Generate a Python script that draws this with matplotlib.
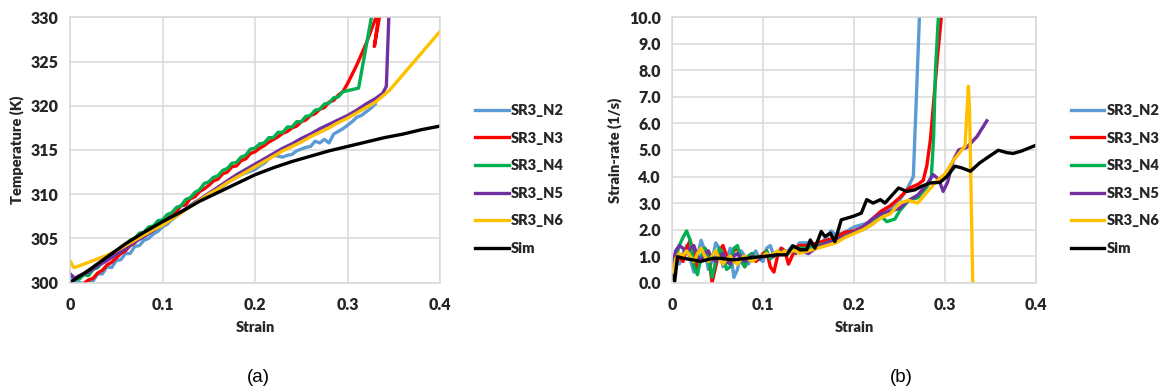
import matplotlib
matplotlib.use("Agg")
import matplotlib.pyplot as plt
from matplotlib.ticker import FixedLocator, FixedFormatter

# ---------------- (a) Temperature vs strain ----------------
temp_n2_strain = [0, 0.005, 0.01, 0.015, 0.02, 0.025, 0.03, 0.035, 0.04, 0.045, 0.05, 0.055,
                  0.06, 0.065, 0.07, 0.075, 0.08, 0.085, 0.09, 0.095, 0.10, 0.105, 0.11, 0.115,
                  0.12, 0.125, 0.13, 0.135, 0.14, 0.145, 0.15, 0.155, 0.16, 0.165, 0.17, 0.175,
                  0.18, 0.185, 0.19, 0.195, 0.20, 0.205, 0.21, 0.215, 0.22, 0.225, 0.23, 0.235,
                  0.24, 0.245, 0.25, 0.255, 0.26, 0.265, 0.27, 0.275, 0.28, 0.285, 0.29, 0.295,
                  0.30, 0.305, 0.31, 0.315, 0.32, 0.325, 0.33]
temp_n2 = [300.6, 300.2, 300.0, 299.9, 300.3, 300.2, 301.0, 301.0, 301.8, 301.7, 302.5, 302.6,
           303.3, 303.3, 304.1, 304.2, 304.8, 305.0, 305.5, 305.8, 306.3, 306.6, 307.1, 307.5,
           307.9, 308.3, 308.7, 309.1, 309.3, 309.6, 309.9, 310.3, 310.6, 310.9, 311.3, 311.6,
           311.9, 312.2, 312.4, 312.6, 312.8, 313.2, 313.5, 314.0, 314.4, 314.3, 314.2, 314.4,
           314.5, 314.9, 315.1, 315.3, 315.4, 316.0, 315.8, 316.2, 315.8, 316.8, 317.1, 317.4,
           317.8, 318.2, 318.7, 318.9, 319.3, 319.7, 320.2]

temp_n3_strain = [0.005, 0.01, 0.015, 0.02, 0.025, 0.03, 0.035, 0.04, 0.045, 0.05, 0.055,
                  0.06, 0.065, 0.07, 0.075, 0.08, 0.085, 0.09, 0.095, 0.10, 0.105, 0.11, 0.115,
                  0.12, 0.125, 0.13, 0.135, 0.14, 0.145, 0.15, 0.155, 0.16, 0.165, 0.17, 0.175,
                  0.18, 0.185, 0.19, 0.195, 0.20, 0.205, 0.21, 0.215, 0.22, 0.225, 0.23, 0.235,
                  0.24, 0.245, 0.25, 0.255, 0.26, 0.265, 0.27, 0.275, 0.28, 0.285, 0.29, 0.295,
                  0.30, 0.31, 0.32, 0.333, 0.336, 0.329, 0.3345, 0.337]
temp_n3 = [299.6, 299.7, 299.9, 300.3, 300.5, 301.1, 301.4, 302.0, 302.3, 302.8, 303.3,
           303.6, 304.2, 304.5, 305.1, 305.3, 305.9, 306.1, 306.6, 306.9, 307.3, 307.7, 308.0,
           308.7, 308.8, 309.5, 309.7, 310.3, 310.6, 311.0, 311.5, 311.7, 312.3, 312.5, 313.1,
           313.2, 313.8, 314.0, 314.6, 314.8, 315.2, 315.5, 315.9, 316.2, 316.5, 316.9, 317.1,
           317.5, 317.7, 318.2, 318.4, 318.9, 319.1, 319.6, 319.8, 320.4, 320.6, 321.2, 321.6,
           322.5, 324.6, 327.0, 330.6, 331.8, 326.7, 330.0, 331.5]

temp_n4_strain = [0, 0.005, 0.01, 0.015, 0.02, 0.025, 0.03, 0.035, 0.04, 0.045, 0.05, 0.055,
                  0.06, 0.065, 0.07, 0.075, 0.08, 0.085, 0.09, 0.095, 0.10, 0.105, 0.11, 0.115,
                  0.12, 0.125, 0.13, 0.135, 0.14, 0.145, 0.15, 0.155, 0.16, 0.165, 0.17, 0.175,
                  0.18, 0.185, 0.19, 0.195, 0.20, 0.205, 0.21, 0.215, 0.22, 0.225, 0.23, 0.235,
                  0.24, 0.245, 0.25, 0.255, 0.26, 0.265, 0.27, 0.275, 0.28, 0.285, 0.29, 0.295,
                  0.30, 0.312, 0.326, 0.330]
temp_n4 = [301.0, 300.5, 300.4, 300.9, 300.8, 301.5, 301.7, 302.3, 302.6, 303.2, 303.4, 304.0,
           304.2, 304.8, 305.0, 305.6, 305.7, 306.3, 306.4, 307.0, 307.1, 307.7, 307.9, 308.5,
           308.7, 309.4, 309.6, 310.2, 310.5, 311.2, 311.4, 311.9, 312.1, 312.7, 312.9, 313.5,
           313.6, 314.2, 314.4, 315.1, 315.2, 315.7, 315.8, 316.4, 316.4, 317.0, 317.0, 317.6,
           317.6, 318.2, 318.2, 318.8, 318.9, 319.5, 319.6, 320.2, 320.3, 320.9, 321.0, 321.6,
           321.7, 322.0, 330.1, 333.0]

temp_n5_strain = [0, 0.005, 0.01, 0.02, 0.03, 0.04, 0.05, 0.06, 0.07, 0.08, 0.09, 0.10,
                  0.11, 0.12, 0.13, 0.14, 0.15, 0.16, 0.17, 0.18, 0.19, 0.20, 0.21, 0.22,
                  0.23, 0.24, 0.25, 0.26, 0.27, 0.28, 0.29, 0.30, 0.31, 0.32, 0.33, 0.338,
                  0.342, 0.345]
temp_n5 = [301.0, 300.5, 300.8, 301.2, 301.9, 302.5, 303.2, 303.8, 304.6, 305.2, 305.9, 306.6,
           307.3, 308.0, 308.7, 309.4, 310.1, 310.8, 311.5, 312.2, 312.8, 313.4, 314.0, 314.6,
           315.2, 315.7, 316.3, 316.8, 317.4, 317.9, 318.4, 318.9, 319.5, 320.2, 320.8, 321.4,
           322.2, 331.0]

temp_n6_strain = [0, 0.004, 0.01, 0.02, 0.03, 0.04, 0.05, 0.06, 0.07, 0.08, 0.09, 0.10,
                  0.11, 0.12, 0.13, 0.14, 0.15, 0.16, 0.17, 0.18, 0.19, 0.20, 0.21, 0.22,
                  0.23, 0.24, 0.25, 0.26, 0.27, 0.28, 0.29, 0.30, 0.31, 0.32, 0.33, 0.345,
                  0.40]
temp_n6 = [302.5, 301.7, 301.9, 302.3, 302.7, 303.1, 303.6, 304.2, 304.8, 305.4, 306.0, 306.5,
           307.2, 307.9, 308.6, 309.3, 310.0, 310.6, 311.3, 311.9, 312.5, 313.1, 313.7, 314.3,
           314.9, 315.4, 315.9, 316.5, 317.0, 317.5, 318.1, 318.6, 319.2, 319.8, 320.4, 321.7,
           328.4]

temp_sim_strain = [0, 0.02, 0.04, 0.06, 0.08, 0.10, 0.12, 0.14, 0.16, 0.18, 0.20, 0.22,
                   0.24, 0.26, 0.28, 0.30, 0.32, 0.34, 0.36, 0.38, 0.40]
temp_sim = [300.0, 301.4, 302.9, 304.4, 305.7, 306.9, 308.0, 309.2, 310.2, 311.2, 312.2, 313.0,
            313.7, 314.3, 314.9, 315.4, 315.9, 316.4, 316.8, 317.3, 317.7]

# ---------------- (b) Strain-rate vs strain ----------------
rate_early_strain = [0, 0.004, 0.008, 0.012, 0.016, 0.02, 0.024, 0.028, 0.032, 0.036, 0.04, 0.044,
                     0.048, 0.052, 0.056, 0.06, 0.064, 0.068, 0.072, 0.076, 0.08, 0.084, 0.088,
                     0.092, 0.096, 0.10, 0.104, 0.108, 0.112, 0.116, 0.12, 0.124, 0.128, 0.132,
                     0.136, 0.14]

rate_n2_early = [0.5, 0.9, 0.7, 1.1, 1.4, 0.9, 0.4, 1.0, 1.6, 1.2, 0.5, 0.8, 1.5, 1.3, 0.6, 0.9,
                 1.3, 0.2, 0.5, 1.2, 1.0, 0.7, 1.0, 1.2, 0.9, 0.8, 1.3, 1.4, 1.0, 1.1, 1.3, 1.2,
                 1.2, 1.4, 1.3, 1.5]
rate_n2_late_strain = [0.15, 0.16, 0.17, 0.175, 0.18, 0.19, 0.20, 0.21, 0.22, 0.23, 0.24, 0.25,
                       0.258, 0.2652, 0.272, 0.2725]
rate_n2_late = [1.5, 1.4, 1.7, 1.95, 1.8, 1.9, 2.1, 2.2, 2.3, 2.6, 2.8, 3.1,
                3.5, 4.0, 10.1, 11.0]

rate_n3_early = [0.2, 0.7, 1.0, 0.8, 1.3, 1.6, 1.0, 0.5, 0.9, 1.3, 1.1, 0.0, 0.6, 1.2, 1.4, 1.0,
                 0.8, 1.2, 1.3, 0.9, 0.6, 1.0, 1.1, 0.8, 0.9, 1.1, 1.2, 0.6, 0.4, 1.0, 1.3, 1.2,
                 0.7, 1.0, 1.3, 1.4]
rate_n3_late_strain = [0.15, 0.16, 0.17, 0.18, 0.19, 0.20, 0.21, 0.22, 0.23, 0.24, 0.25, 0.26,
                       0.27, 0.276, 0.28, 0.284, 0.288, 0.292, 0.2965, 0.298]
rate_n3_late = [1.4, 1.5, 1.6, 1.7, 1.9, 1.95, 2.1, 2.4, 2.7, 2.9, 3.2, 3.55,
                3.7, 3.85, 4.4, 5.4, 7.0, 8.6, 10.2, 11.0]

rate_n4_early = [0.3, 0.9, 1.4, 1.7, 1.95, 1.6, 0.6, 0.3, 1.0, 1.3, 0.9, 0.2, 0.8, 1.3, 1.1, 0.5,
                 0.6, 1.3, 1.4, 0.8, 0.6, 1.0, 1.1, 0.9, 0.9, 1.0, 1.2, 0.9, 1.0, 1.1, 1.2, 1.1,
                 1.1, 1.3, 1.2, 1.3]
rate_n4_late_strain = [0.15, 0.16, 0.17, 0.18, 0.19, 0.20, 0.21, 0.22, 0.23, 0.236, 0.245, 0.25,
                       0.26, 0.27, 0.28, 0.285, 0.2875, 0.2895, 0.293, 0.294]
rate_n4_late = [1.3, 1.4, 1.5, 1.6, 1.75, 1.9, 2.0, 2.2, 2.5, 2.3, 2.4, 2.7,
                3.1, 3.2, 3.6, 4.0, 5.5, 8.0, 10.2, 11.0]

rate_n5_early = [0.5, 1.2, 1.4, 1.3, 1.1, 1.3, 1.4, 1.0, 0.8, 1.1, 1.2, 0.9, 0.8, 1.0, 1.1, 0.8,
                 0.7, 1.0, 1.1, 0.9, 0.8, 0.9, 1.0, 0.9, 0.9, 1.0, 1.1, 1.0, 1.0, 1.1, 1.2, 1.1,
                 1.1, 1.2, 1.1, 1.2]
rate_n5_late_strain = [0.15, 0.16, 0.17, 0.18, 0.19, 0.20, 0.21, 0.22, 0.23, 0.24, 0.25, 0.26,
                       0.27, 0.28, 0.287, 0.293, 0.298, 0.303, 0.309, 0.315, 0.324, 0.335, 0.346]
rate_n5_late = [1.1, 1.35, 1.5, 1.6, 1.75, 1.9, 2.1, 2.4, 2.6, 2.7, 2.8, 3.1,
                3.3, 3.7, 4.07, 3.9, 3.44, 3.8, 4.6, 5.0, 5.1, 5.5, 6.1]

rate_n6_early = [0.1, 0.9, 1.1, 1.0, 1.2, 1.0, 0.8, 1.1, 1.3, 1.0, 0.8, 1.0, 1.2, 0.9, 0.7, 0.9,
                 1.0, 0.8, 0.7, 0.9, 1.0, 0.9, 0.8, 0.9, 1.0, 1.0, 1.1, 1.0, 1.1, 1.2, 1.1, 1.2,
                 1.1, 1.2, 1.2, 1.1]
rate_n6_late_strain = [0.15, 0.16, 0.17, 0.18, 0.19, 0.20, 0.21, 0.22, 0.23, 0.24, 0.25, 0.26,
                       0.27, 0.28, 0.29, 0.30, 0.309, 0.322, 0.3257, 0.327, 0.3305, 0.3312]
rate_n6_late = [1.2, 1.3, 1.4, 1.5, 1.7, 1.85, 2.0, 2.2, 2.45, 2.6, 3.0, 3.1,
                3.0, 3.4, 3.8, 4.1, 4.6, 5.15, 7.4, 6.5, 0.0, -0.5]

rate_sim_strain = [0, 0.003, 0.006, 0.0125, 0.023, 0.031, 0.045, 0.053, 0.067, 0.082, 0.097,
                   0.104, 0.115, 0.126, 0.133, 0.141, 0.148, 0.152, 0.157, 0.164, 0.168, 0.174,
                   0.179, 0.186, 0.199, 0.208, 0.214, 0.221, 0.229, 0.234, 0.249, 0.258, 0.267,
                   0.274, 0.284, 0.2945, 0.302, 0.311, 0.318, 0.328, 0.338, 0.349, 0.3586,
                   0.368, 0.375, 0.384, 0.40]
rate_sim = [0.29, 0.05, 0.98, 0.92, 0.86, 0.80, 0.92, 0.92, 0.86, 0.92, 0.98,
            1.0, 1.05, 1.05, 1.39, 1.24, 1.24, 1.61, 1.30, 1.93, 1.74, 1.87,
            1.55, 2.37, 2.50, 2.62, 3.13, 3.0, 3.13, 3.0, 3.57, 3.44, 3.50,
            3.63, 3.76, 3.78, 4.0, 4.39, 4.33, 4.20, 4.51, 4.77, 4.99,
            4.90, 4.87, 4.96, 5.18]

series_names = ["SR3_N2", "SR3_N3", "SR3_N4", "SR3_N5", "SR3_N6", "Sim"]
series_colors = ["#5b9bd5", "#ff0000", "#00b050", "#7030a0", "#ffc000", "#000000"]

temp_ticks = [300, 305, 310, 315, 320, 325, 330]
rate_ticks = [0, 1, 2, 3, 4, 5, 6, 7, 8, 9, 10]
rate_tick_labels = ["0.0", "1.0", "2.0", "3.0", "4.0", "5.0", "6.0", "7.0", "8.0", "9.0", "10.0"]
strain_ticks = [0, 0.1, 0.2, 0.3, 0.4]
strain_tick_labels = ["0", "0.1", "0.2", "0.3", "0.4"]

FONT = "Lato"
GRID = "#d9d9d9"
INK = "#262626"

fig = plt.figure(figsize=(11.67, 3.89), dpi=100)
ax_a = fig.add_axes([70 / 1167, 1 - 282.7 / 389, 370 / 1167, 265.4 / 389])
ax_b = fig.add_axes([672 / 1167, 1 - 282.7 / 389, 364 / 1167, 265.4 / 389])

temp_data = [
    (temp_n2_strain, temp_n2),
    (temp_n3_strain, temp_n3),
    (temp_n4_strain, temp_n4),
    (temp_n5_strain, temp_n5),
    (temp_n6_strain, temp_n6),
    (temp_sim_strain, temp_sim),
]
rate_data = [
    (rate_early_strain + rate_n2_late_strain, rate_n2_early + rate_n2_late),
    (rate_early_strain + rate_n3_late_strain, rate_n3_early + rate_n3_late),
    (rate_early_strain + rate_n4_late_strain, rate_n4_early + rate_n4_late),
    (rate_early_strain + rate_n5_late_strain, rate_n5_early + rate_n5_late),
    (rate_early_strain + rate_n6_late_strain, rate_n6_early + rate_n6_late),
    (rate_sim_strain, rate_sim),
]

for (xs, ys), name, color in zip(temp_data, series_names, series_colors):
    ax_a.plot(xs, ys, color=color, lw=2.4, label=name, solid_joinstyle="round")
for (xs, ys), name, color in zip(rate_data, series_names, series_colors):
    ax_b.plot(xs, ys, color=color, lw=2.4, label=name, solid_joinstyle="round")


def style_axes(ax, yticks, ylabels, ylim, ylabel, ylabel_x, legend_x):
    ax.set_xlim(0, 0.4)
    ax.set_ylim(*ylim)
    ax.xaxis.set_major_locator(FixedLocator(strain_ticks))
    ax.xaxis.set_major_formatter(FixedFormatter(strain_tick_labels))
    ax.yaxis.set_major_locator(FixedLocator(yticks))
    ax.yaxis.set_major_formatter(FixedFormatter(ylabels))
    ax.grid(True, color=GRID, lw=1.1)
    ax.set_axisbelow(True)
    for sp in ax.spines.values():
        sp.set_color(GRID)
        sp.set_linewidth(1.1)
    ax.tick_params(length=0, labelsize=11.5, pad=8, labelcolor=INK)
    ax.tick_params(axis="x", pad=10)
    for lab in ax.get_xticklabels() + ax.get_yticklabels():
        lab.set_fontfamily(FONT)
        lab.set_fontweight("heavy")
    ax.set_xlabel("Strain", fontsize=10.5, fontweight="heavy", family=FONT, color=INK)
    ax.set_ylabel(ylabel, fontsize=10.5, fontweight="heavy", family=FONT, color=INK)
    ax.xaxis.set_label_coords(0.5, -0.145)
    ax.yaxis.set_label_coords(ylabel_x, 0.5)
    leg = ax.legend(loc="center left", bbox_to_anchor=(legend_x, 0.389), frameon=False,
                    borderaxespad=0, borderpad=0, handlelength=2.3, handletextpad=0.15,
                    labelspacing=1.0, prop={"family": FONT, "weight": "heavy", "size": 10.5})
    for line in leg.get_lines():
        line.set_linewidth(2.4)
    for txt in leg.get_texts():
        txt.set_color(INK)


style_axes(ax_a, temp_ticks, [str(t) for t in temp_ticks], (300, 330),
           "Temperature (K)", -0.124, 1.095)
style_axes(ax_b, rate_ticks, rate_tick_labels, (0, 10),
           "Strain-rate (1/s)", -0.137, 1.096)

fig.text(258 / 1167, 1 - 378 / 389, "(a)", ha="center", va="center",
         fontsize=13.5, family="Liberation Sans")
fig.text(901 / 1167, 1 - 378 / 389, "(b)", ha="center", va="center",
         fontsize=13.5, family="Liberation Sans")

fig.savefig("out.png", dpi=100, facecolor="white")
